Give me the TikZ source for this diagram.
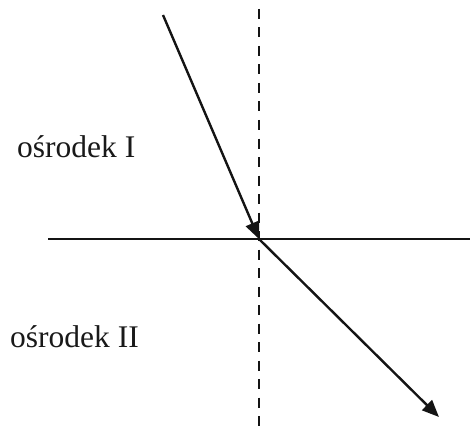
\documentclass[tikz,border=0pt]{standalone}
\usepackage{fontspec}
\setmainfont{Liberation Serif}
\usetikzlibrary{arrows.meta}
\begin{document}
\begin{tikzpicture}[x=1pt,y=1pt,
  ray/.style={line width=2.4pt,draw=black!92},
  tip/.style={-{Triangle[length=17pt,width=14pt]}},
  lbl/.style={inner sep=0pt,anchor=base west,font=\fontsize{31.5}{36}\selectfont,text=black!90}]
\useasboundingbox (0,0) rectangle (470,429);
\coordinate (S) at (163,414);
\coordinate (O) at (259,190);
\coordinate (E) at (439,12);
\coordinate (L) at (48,190);
\coordinate (R) at (470,190);
\coordinate (T) at (259,420);
\coordinate (B) at (259,0);
\draw[ray] (L) -- (R);
\draw[ray,dash pattern=on 10pt off 8.5pt] (T) -- (B);
\draw[ray,tip] (S) -- (O);
\draw[ray,tip] (O) -- (E);
\node[lbl] (m1) at (17,272) {ośrodek I};
\node[lbl] (m2) at (10,82) {ośrodek II};
\end{tikzpicture}
\end{document}
